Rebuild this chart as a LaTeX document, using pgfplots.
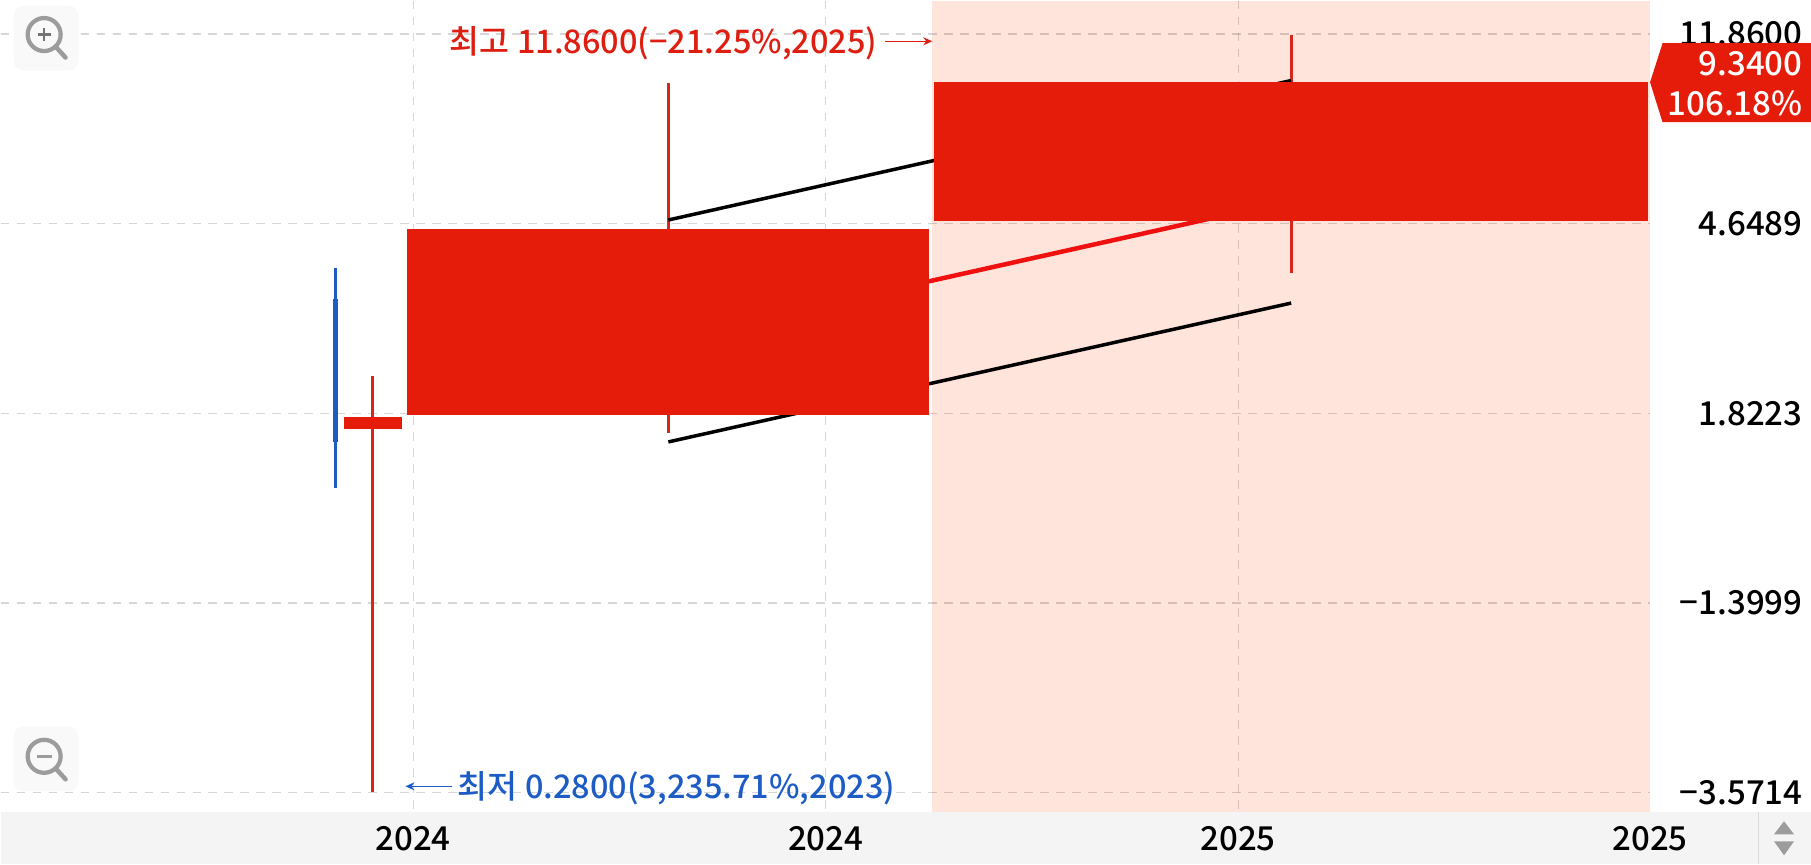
\documentclass[border=0pt]{standalone}
\usepackage{fontspec}
\setmainfont{Noto Sans CJK KR Medium}
\usepackage{pgfplots}
\pgfplotsset{compat=1.18}
\usetikzlibrary{arrows.meta}
\definecolor{upred}{RGB}{230,28,10}
\definecolor{wickred}{RGB}{216,38,26}
\definecolor{midred}{RGB}{240,16,16}
\definecolor{notered}{RGB}{222,30,16}
\definecolor{downblue}{RGB}{28,92,196}
\definecolor{pinkband}{RGB}{255,228,220}
\definecolor{barbg}{RGB}{244,244,244}
\definecolor{iconbg}{RGB}{249,249,249}
\definecolor{icongray}{RGB}{156,156,156}
% the price scale is not linear (equal steps, unequal values), so all
% coordinates are positions on the chart, 1 unit = 1 px of the reference = 0.4pt
\newcommand{\lbl}{\fontsize{13.2}{15}\selectfont}
\newcommand{\note}{\fontsize{13}{15}\selectfont}
\begin{document}
\begin{tikzpicture}
\begin{axis}[
  at={(0,0)}, anchor=south west,
  set layers,
  scale only axis,
  width=660pt, height=324.8pt,
  xmin=0, xmax=1650, ymin=0, ymax=812,
  y dir=reverse,
  clip=false,
  axis line style={draw=none},
  major tick length=0pt,
  grid=major,
  grid style={draw=black, opacity=.16, line width=.45pt, dash pattern=on 3.4pt off 3pt},
  xtick={412.7,825.4,1238},
  xticklabels={2024,2024,2025},
  extra x ticks={1650},
  extra x tick labels={2025},
  extra x tick style={grid=none},
  xticklabel pos=left,
  xticklabel style={font=\lbl, anchor=center, inner sep=0pt, yshift=-10.4pt},
  ytick={33.5,223.3,413.3,602.6,792.3},
  yticklabels={11.8600,4.6489,1.8223,−1.3999,−3.5714},
  yticklabel pos=right,
  yticklabel style={font=\lbl, anchor=east, inner sep=0pt, xshift=61.2pt},
]
% backgrounds
\addplot[fill=pinkband, draw=none, on layer=axis background] coordinates {(932,0) (1650,0) (1650,812) (932,812)} -- cycle;
\addplot[fill=barbg, draw=none, on layer=axis background] coordinates {(0,812) (1811,812) (1811,864) (0,864)} -- cycle;
\addplot[draw=black!14, line width=.4pt] coordinates {(1758,812) (1758,864)};
\addplot[fill=icongray, draw=none] coordinates {(1784,821) (1794,834) (1774,834)} -- cycle;
\addplot[fill=icongray, draw=none] coordinates {(1784,855) (1794,841) (1774,841)} -- cycle;

% wicks
\addplot[draw=downblue, line width=1.1pt] coordinates {(335.3,267.3) (335.3,488)};
\addplot[draw=wickred, line width=1.1pt] coordinates {(372.3,375.3) (372.3,792)};
\addplot[draw=wickred, line width=1.1pt] coordinates {(668,82.7) (668,432.7)};
\addplot[draw=wickred, line width=1.1pt] coordinates {(1291.7,34) (1291.7,272.3)};

% band lines
\addplot[draw=black, line width=1.4pt] coordinates {(668,219.5) (1291,80)};
\addplot[draw=midred, line width=1.8pt] coordinates {(668,339) (1291,200)};
\addplot[draw=black, line width=1.4pt] coordinates {(668,441.5) (1291,302.6)};

% candle bodies
\addplot[fill=downblue, draw=none] coordinates {(332.7,298.3) (338,298.3) (338,441.7) (332.7,441.7)} -- cycle;
\addplot[fill=upred, draw=none] coordinates {(343.3,416.7) (401.3,416.7) (401.3,428.3) (343.3,428.3)} -- cycle;
\addplot[fill=upred, draw=none] coordinates {(407,228.7) (929,228.7) (929,414.3) (407,414.3)} -- cycle;
\addplot[fill=upred, draw=none] coordinates {(934,81.7) (1647.5,81.7) (1647.5,221) (934,221)} -- cycle;

% last price tag
\addplot[fill=upred, draw=none] coordinates {(1650,81.7) (1662.5,42.7) (1811,42.7) (1811,121.7) (1662.5,121.7)} -- cycle;
\node[font=\lbl, text=white, anchor=east, inner sep=0pt] at (axis cs:1803,63) {9.3400};
\node[font=\lbl, text=white, anchor=east, inner sep=0pt] at (axis cs:1803,103) {106.18\%};

% high / low notes
\node[font=\note, text=notered, anchor=west, inner sep=0pt] at (axis cs:449,43) {최고 11.8600(−21.25\%,2025)};
\draw[-{Stealth[length=3.6pt,width=3.2pt]}, draw=notered, line width=.5pt] (axis cs:885,40.7) -- (axis cs:932,40.7);
\node[font=\note, text=downblue, anchor=west, inner sep=0pt] at (axis cs:457,788) {최저 0.2800(3,235.71\%,2023)};
\draw[-{Stealth[length=3.6pt,width=3.2pt]}, draw=downblue, line width=.5pt] (axis cs:451.5,786) -- (axis cs:405,786);

% zoom buttons
\fill[iconbg, rounded corners=4pt] (axis cs:13,5) rectangle (axis cs:78,70);
\draw[icongray, line width=1.7pt] (axis cs:43.6,34) circle (6.6pt);
\draw[icongray, line width=1.8pt, line cap=round] (axis cs:55,46) -- (axis cs:65,57);
\draw[black!55, line width=1pt] (axis cs:37,34) -- (axis cs:50,34) (axis cs:43.6,27.5) -- (axis cs:43.6,40.5);
\fill[iconbg, rounded corners=4pt] (axis cs:13,726) rectangle (axis cs:78,791);
\draw[icongray, line width=1.7pt] (axis cs:43.6,756) circle (6.6pt);
\draw[icongray, line width=1.8pt, line cap=round] (axis cs:55,768) -- (axis cs:65,779);
\draw[icongray, line width=1.2pt] (axis cs:36,756) -- (axis cs:51,756);
\end{axis}
\end{tikzpicture}
\end{document}
